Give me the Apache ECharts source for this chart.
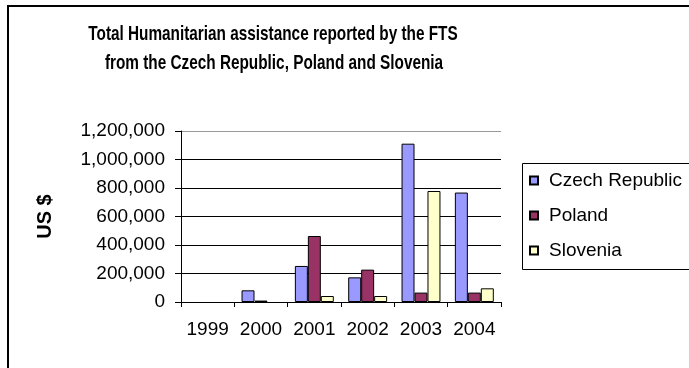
<!DOCTYPE html>
<html>
<head>
<meta charset="utf-8">
<script src="https://cdn.jsdelivr.net/npm/echarts@6/dist/echarts.min.js"></script>
<style>
html,body{margin:0;padding:0;background:#fff;overflow:hidden;}
#chart{width:689px;height:368px;}
</style>
</head>
<body>
<div id="chart"></div>
<script>
var years = ['1999', '2000', '2001', '2002', '2003', '2004'];
var czech = [null, 82000, 253000, 173000, 1111000, 768000];
var poland = [null, 10000, 463000, 227000, 66000, 66000];
var slovenia = [null, null, 42000, 42000, 779000, 96000];
var seriesNames = ['Czech Republic', 'Poland', 'Slovenia'];
var seriesColors = ['#9999FF', '#993366', '#FFFFCC'];
var titleLines = ['Total Humanitarian assistance reported by the FTS', 'from the Czech Republic, Poland and Slovenia'];
var yTitle = 'US $';

var FONT = '"Liberation Sans", Arial, sans-serif';
var chart = echarts.init(document.getElementById('chart'), null, {renderer: 'canvas'});

function fmt(v) {
  return String(v).replace(/\B(?=(\d{3})+(?!\d))/g, ',');
}

var dataSets = [czech, poland, slovenia];
var series = dataSets.map(function (d, i) {
  return {
    name: seriesNames[i],
    type: 'bar',
    data: d,
    barGap: '0%',
    barCategoryGap: '27%',
    itemStyle: {color: seriesColors[i], borderColor: '#000', borderWidth: 1},
    emphasis: {disabled: true}
  };
});

var option = {
  animation: false,
  textStyle: {fontFamily: FONT},
  grid: {left: 181, right: 188, top: 131, bottom: 66, containLabel: false},
  legend: {
    orient: 'vertical',
    left: 522,
    top: 163,
    data: seriesNames,
    icon: 'rect',
    itemWidth: 8,
    itemHeight: 8,
    itemGap: 16,
    padding: [8, 0, 8, 7],
    borderWidth: 0,
    backgroundColor: 'transparent',
    selectedMode: false,
    textStyle: {fontFamily: FONT, fontSize: 19, color: '#000', lineHeight: 19, padding: [0, 0, 0, 6], overflow: 'none'}
  },
  xAxis: {
    type: 'category',
    data: years,
    axisLine: {lineStyle: {color: '#000', width: 1}},
    axisTick: {show: true, length: 5, lineStyle: {color: '#000'}},
    axisLabel: {color: '#000', fontSize: 19, fontFamily: FONT, margin: 18, interval: 0}
  },
  yAxis: {
    type: 'value',
    min: 0,
    max: 1200000,
    interval: 200000,
    name: yTitle,
    nameLocation: 'middle',
    nameRotate: 90,
    nameGap: 126,
    nameTextStyle: {fontFamily: FONT, fontSize: 20, fontWeight: 'bold', color: '#000'},
    axisLine: {show: true, lineStyle: {color: '#000', width: 1}},
    axisTick: {show: true, length: 6, lineStyle: {color: '#000'}},
    axisLabel: {color: '#000', fontSize: 19, fontFamily: FONT, margin: 16, formatter: fmt},
    splitLine: {show: true, lineStyle: {color: ['#000', '#000', '#000', '#000', '#000', '#000', '#999'], width: 1}}
  },
  graphic: [
    {type: 'polyline', silent: true, z: -10, shape: {points: [[760, 6], [8, 6], [8, 400]]}, style: {fill: 'none', stroke: '#000', lineWidth: 2}},
    {type: 'polyline', silent: true, z: -5, shape: {points: [[700, 163.5], [522.5, 163.5], [522.5, 269.5], [700, 269.5]]}, style: {fill: 'none', stroke: '#000', lineWidth: 1}},
    {type: 'text', x: 273, y: 34, scaleX: 0.73, style: {text: titleLines[0], font: 'bold 21px ' + FONT, fill: '#000', textAlign: 'center', textVerticalAlign: 'middle'}},
    {type: 'text', x: 274, y: 63, scaleX: 0.73, style: {text: titleLines[1], font: 'bold 21px ' + FONT, fill: '#000', textAlign: 'center', textVerticalAlign: 'middle'}}
  ],
  series: series
};
chart.setOption(option);
</script>
</body>
</html>
